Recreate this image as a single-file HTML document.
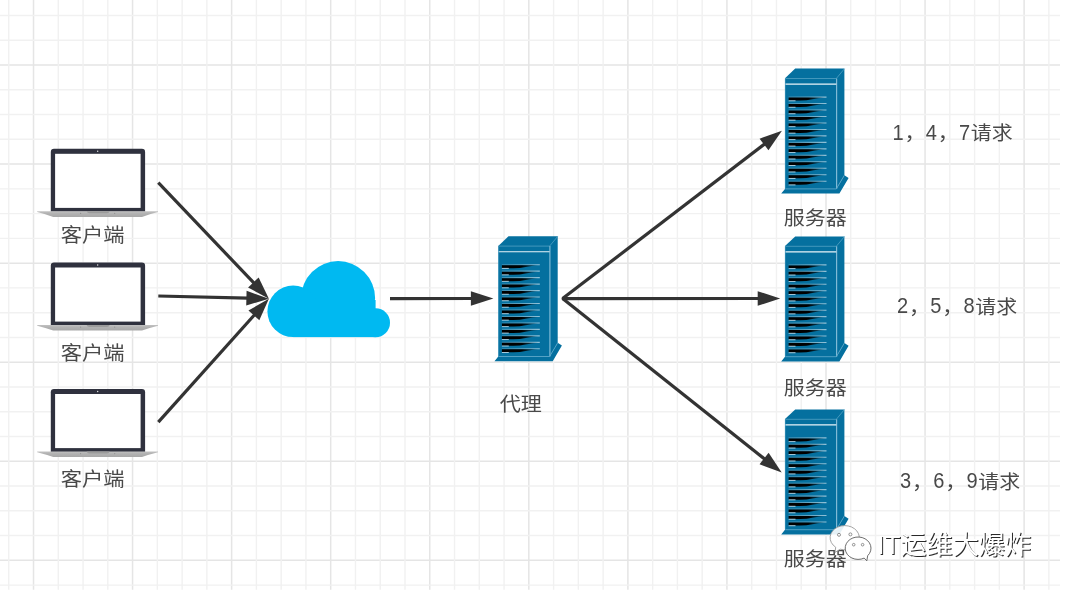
<!DOCTYPE html>
<html lang="zh-CN">
<head>
<meta charset="utf-8">
<title>负载均衡示意图</title>
<style>
html,body{margin:0;padding:0;background:#fff;}
body{width:1066px;height:592px;overflow:hidden;font-family:"Liberation Sans","Noto Sans CJK SC",sans-serif;}
svg{display:block;}
#stage{position:absolute;left:0;top:0;width:1066px;height:592px;will-change:transform;}
</style>
</head>
<body>
<div id="stage">
<svg width="1066" height="592" viewBox="0 0 1066 592" font-family="&quot;Liberation Sans&quot;, &quot;Noto Sans CJK SC&quot;, sans-serif">
<path d="M33.52 0V589.7M132.57 0V589.7M231.63 0V589.7M330.69 0V589.7M429.75 0V589.7M528.82 0V589.7M627.88 0V589.7M726.94 0V589.7M826.00 0V589.7M925.06 0V589.7M1024.12 0V589.7M0 65.03H1060.0M0 164.09H1060.0M0 263.15H1060.0M0 362.21H1060.0M0 461.27H1060.0M0 560.33H1060.0" stroke="#e5e5e5" stroke-width="1.5" fill="none"/>
<path d="M8.75 0V589.7M58.28 0V589.7M83.05 0V589.7M107.81 0V589.7M157.34 0V589.7M182.11 0V589.7M206.87 0V589.7M256.40 0V589.7M281.17 0V589.7M305.93 0V589.7M355.46 0V589.7M380.23 0V589.7M404.99 0V589.7M454.52 0V589.7M479.29 0V589.7M504.05 0V589.7M553.58 0V589.7M578.35 0V589.7M603.11 0V589.7M652.64 0V589.7M677.40 0V589.7M702.17 0V589.7M751.70 0V589.7M776.47 0V589.7M801.23 0V589.7M850.76 0V589.7M875.52 0V589.7M900.29 0V589.7M949.82 0V589.7M974.59 0V589.7M999.35 0V589.7M1048.88 0V589.7M0 15.50H1060.0M0 40.27H1060.0M0 89.80H1060.0M0 114.56H1060.0M0 139.32H1060.0M0 188.86H1060.0M0 213.62H1060.0M0 238.38H1060.0M0 287.92H1060.0M0 312.68H1060.0M0 337.44H1060.0M0 386.98H1060.0M0 411.74H1060.0M0 436.50H1060.0M0 486.04H1060.0M0 510.80H1060.0M0 535.57H1060.0M0 585.10H1060.0" stroke="#f1f1f1" stroke-width="1.4" fill="none"/>
<defs><linearGradient id="lapbase" x1="0" y1="0" x2="0" y2="1"><stop offset="0" stop-color="#c2c2c2"/><stop offset="0.4" stop-color="#b2b2b2"/><stop offset="1" stop-color="#a8a8a8"/></linearGradient></defs>
<g transform="translate(0,148.80)"><path d="M50.8 62.9 V3.2 Q50.8 0 54 0 H141.9 Q145.1 0 145.1 3.2 V62.9Z" fill="#2f313e"/><rect x="55.1" y="5" width="85.5" height="54.1" fill="#fff"/><circle cx="97.7" cy="2.5" r="0.7" fill="#e8e8e8"/><path d="M37.2 62.4 H158 V63.2 Q149 65.4 142 68.1 H53.2 Q46 65.4 37.2 63.2Z" fill="url(#lapbase)"/><path d="M86.6 62.5 H109.7 Q109 64.5 107 64.5 H89.3 Q87.3 64.5 86.6 62.5Z" fill="#9c9c9c"/><circle cx="80.6" cy="64.6" r="0.6" fill="#909090"/><circle cx="114.7" cy="64.6" r="0.6" fill="#909090"/></g>
<g transform="translate(0,262.50)"><path d="M50.8 62.9 V3.2 Q50.8 0 54 0 H141.9 Q145.1 0 145.1 3.2 V62.9Z" fill="#2f313e"/><rect x="55.1" y="5" width="85.5" height="54.1" fill="#fff"/><circle cx="97.7" cy="2.5" r="0.7" fill="#e8e8e8"/><path d="M37.2 62.4 H158 V63.2 Q149 65.4 142 68.1 H53.2 Q46 65.4 37.2 63.2Z" fill="url(#lapbase)"/><path d="M86.6 62.5 H109.7 Q109 64.5 107 64.5 H89.3 Q87.3 64.5 86.6 62.5Z" fill="#9c9c9c"/><circle cx="80.6" cy="64.6" r="0.6" fill="#909090"/><circle cx="114.7" cy="64.6" r="0.6" fill="#909090"/></g>
<g transform="translate(0,389.00)"><path d="M50.8 62.9 V3.2 Q50.8 0 54 0 H141.9 Q145.1 0 145.1 3.2 V62.9Z" fill="#2f313e"/><rect x="55.1" y="5" width="85.5" height="54.1" fill="#fff"/><circle cx="97.7" cy="2.5" r="0.7" fill="#e8e8e8"/><path d="M37.2 62.4 H158 V63.2 Q149 65.4 142 68.1 H53.2 Q46 65.4 37.2 63.2Z" fill="url(#lapbase)"/><path d="M86.6 62.5 H109.7 Q109 64.5 107 64.5 H89.3 Q87.3 64.5 86.6 62.5Z" fill="#9c9c9c"/><circle cx="80.6" cy="64.6" r="0.6" fill="#909090"/><circle cx="114.7" cy="64.6" r="0.6" fill="#909090"/></g>
<g fill="#00b9f1"><circle cx="338.1" cy="298.1" r="37"/><circle cx="293.15" cy="311.35" r="25.75"/><circle cx="375.6" cy="322.75" r="14.4"/><rect x="293.15" y="300" width="82.45" height="37.1"/></g>
<defs><linearGradient id="slotb" gradientUnits="userSpaceOnUse" x1="3.6" y1="0" x2="40" y2="0"><stop offset="0" stop-color="#000"/><stop offset="0.55" stop-color="#000"/><stop offset="1" stop-color="#000" stop-opacity="0.15"/></linearGradient></defs>
<defs><linearGradient id="slotw" gradientUnits="userSpaceOnUse" x1="3.6" y1="0" x2="41.5" y2="0"><stop offset="0" stop-color="#8fb8cc" stop-opacity="0.4"/><stop offset="1" stop-color="#cfe5f0" stop-opacity="0.7"/></linearGradient></defs>
<g transform="translate(498.30,236.20)"><path d="M0 120.3 L-3.8 125 H54.4 L63.6 109.3 L59.4 106.6 L51.3 120.3Z" fill="#05709f"/><path d="M0 9.7 L10.2 0 H59.4 V107 L51.3 120.5 H0Z" fill="#05709f"/><path d="M0 9.9 H51.3 L59.4 0.2" stroke="#4a9cc0" stroke-width="0.9" fill="none"/><path d="M51.6 9.9 V120.3" stroke="#7fbad6" stroke-width="1.2" fill="none"/><path d="M0 15.5 H51.3" stroke="#e8f3f8" stroke-width="1.1" fill="none"/><path d="M0.3 120.3 H51.3 L59.4 106.6" stroke="#5aa6c8" stroke-width="0.9" fill="none"/><path d="M0.35 9.9 V120.3" stroke="#3d93ba" stroke-width="0.7" fill="none"/><path d="M3.6 28.50 H41.5" stroke="url(#slotw)" stroke-width="1.1" fill="none"/><path d="M3.6 29.00 H40 C31 29.80 24 32.00 15 32.00 H3.6Z" fill="url(#slotb)"/><path d="M3.6 32.20 H10.5" stroke="#b9d7e6" stroke-width="0.9" fill="none"/><path d="M3.6 34.97 H41.5" stroke="url(#slotw)" stroke-width="1.1" fill="none"/><path d="M3.6 35.47 H40 C31 36.27 24 38.47 15 38.47 H3.6Z" fill="url(#slotb)"/><path d="M3.6 38.67 H10.5" stroke="#b9d7e6" stroke-width="0.9" fill="none"/><path d="M3.6 41.44 H41.5" stroke="url(#slotw)" stroke-width="1.1" fill="none"/><path d="M3.6 41.94 H40 C31 42.74 24 44.94 15 44.94 H3.6Z" fill="url(#slotb)"/><path d="M3.6 45.14 H10.5" stroke="#b9d7e6" stroke-width="0.9" fill="none"/><path d="M3.6 47.91 H41.5" stroke="url(#slotw)" stroke-width="1.1" fill="none"/><path d="M3.6 48.41 H40 C31 49.21 24 51.41 15 51.41 H3.6Z" fill="url(#slotb)"/><path d="M3.6 51.61 H10.5" stroke="#b9d7e6" stroke-width="0.9" fill="none"/><path d="M3.6 54.38 H41.5" stroke="url(#slotw)" stroke-width="1.1" fill="none"/><path d="M3.6 54.88 H40 C31 55.68 24 57.88 15 57.88 H3.6Z" fill="url(#slotb)"/><path d="M3.6 58.08 H10.5" stroke="#b9d7e6" stroke-width="0.9" fill="none"/><path d="M3.6 60.85 H41.5" stroke="url(#slotw)" stroke-width="1.1" fill="none"/><path d="M3.6 61.35 H40 C31 62.15 24 64.35 15 64.35 H3.6Z" fill="url(#slotb)"/><path d="M3.6 64.55 H10.5" stroke="#b9d7e6" stroke-width="0.9" fill="none"/><path d="M3.6 67.32 H41.5" stroke="url(#slotw)" stroke-width="1.1" fill="none"/><path d="M3.6 67.82 H40 C31 68.62 24 70.82 15 70.82 H3.6Z" fill="url(#slotb)"/><path d="M3.6 71.02 H10.5" stroke="#b9d7e6" stroke-width="0.9" fill="none"/><path d="M3.6 73.79 H41.5" stroke="url(#slotw)" stroke-width="1.1" fill="none"/><path d="M3.6 74.29 H40 C31 75.09 24 77.29 15 77.29 H3.6Z" fill="url(#slotb)"/><path d="M3.6 77.49 H10.5" stroke="#b9d7e6" stroke-width="0.9" fill="none"/><path d="M3.6 80.26 H41.5" stroke="url(#slotw)" stroke-width="1.1" fill="none"/><path d="M3.6 80.76 H40 C31 81.56 24 83.76 15 83.76 H3.6Z" fill="url(#slotb)"/><path d="M3.6 83.96 H10.5" stroke="#b9d7e6" stroke-width="0.9" fill="none"/><path d="M3.6 86.73 H41.5" stroke="url(#slotw)" stroke-width="1.1" fill="none"/><path d="M3.6 87.23 H40 C31 88.03 24 90.23 15 90.23 H3.6Z" fill="url(#slotb)"/><path d="M3.6 90.43 H10.5" stroke="#b9d7e6" stroke-width="0.9" fill="none"/><path d="M3.6 93.20 H41.5" stroke="url(#slotw)" stroke-width="1.1" fill="none"/><path d="M3.6 93.70 H40 C31 94.50 24 96.70 15 96.70 H3.6Z" fill="url(#slotb)"/><path d="M3.6 96.90 H10.5" stroke="#b9d7e6" stroke-width="0.9" fill="none"/><path d="M3.6 99.67 H41.5" stroke="url(#slotw)" stroke-width="1.1" fill="none"/><path d="M3.6 100.17 H40 C31 100.97 24 103.17 15 103.17 H3.6Z" fill="url(#slotb)"/><path d="M3.6 103.37 H10.5" stroke="#b9d7e6" stroke-width="0.9" fill="none"/><path d="M3.6 106.14 H41.5" stroke="url(#slotw)" stroke-width="1.1" fill="none"/><path d="M3.6 106.64 H40 C31 107.44 24 109.64 15 109.64 H3.6Z" fill="url(#slotb)"/><path d="M3.6 109.84 H10.5" stroke="#b9d7e6" stroke-width="0.9" fill="none"/><path d="M3.6 112.61 H41.5" stroke="url(#slotw)" stroke-width="1.1" fill="none"/><path d="M3.6 113.11 H40 C31 113.91 24 116.11 15 116.11 H3.6Z" fill="url(#slotb)"/><path d="M3.6 116.31 H10.5" stroke="#b9d7e6" stroke-width="0.9" fill="none"/></g>
<g transform="translate(785.00,68.60)"><path d="M0 120.3 L-3.8 125 H54.4 L63.6 109.3 L59.4 106.6 L51.3 120.3Z" fill="#05709f"/><path d="M0 9.7 L10.2 0 H59.4 V107 L51.3 120.5 H0Z" fill="#05709f"/><path d="M0 9.9 H51.3 L59.4 0.2" stroke="#4a9cc0" stroke-width="0.9" fill="none"/><path d="M51.6 9.9 V120.3" stroke="#7fbad6" stroke-width="1.2" fill="none"/><path d="M0 15.5 H51.3" stroke="#e8f3f8" stroke-width="1.1" fill="none"/><path d="M0.3 120.3 H51.3 L59.4 106.6" stroke="#5aa6c8" stroke-width="0.9" fill="none"/><path d="M0.35 9.9 V120.3" stroke="#3d93ba" stroke-width="0.7" fill="none"/><path d="M3.6 28.50 H41.5" stroke="url(#slotw)" stroke-width="1.1" fill="none"/><path d="M3.6 29.00 H40 C31 29.80 24 32.00 15 32.00 H3.6Z" fill="url(#slotb)"/><path d="M3.6 32.20 H10.5" stroke="#b9d7e6" stroke-width="0.9" fill="none"/><path d="M3.6 34.97 H41.5" stroke="url(#slotw)" stroke-width="1.1" fill="none"/><path d="M3.6 35.47 H40 C31 36.27 24 38.47 15 38.47 H3.6Z" fill="url(#slotb)"/><path d="M3.6 38.67 H10.5" stroke="#b9d7e6" stroke-width="0.9" fill="none"/><path d="M3.6 41.44 H41.5" stroke="url(#slotw)" stroke-width="1.1" fill="none"/><path d="M3.6 41.94 H40 C31 42.74 24 44.94 15 44.94 H3.6Z" fill="url(#slotb)"/><path d="M3.6 45.14 H10.5" stroke="#b9d7e6" stroke-width="0.9" fill="none"/><path d="M3.6 47.91 H41.5" stroke="url(#slotw)" stroke-width="1.1" fill="none"/><path d="M3.6 48.41 H40 C31 49.21 24 51.41 15 51.41 H3.6Z" fill="url(#slotb)"/><path d="M3.6 51.61 H10.5" stroke="#b9d7e6" stroke-width="0.9" fill="none"/><path d="M3.6 54.38 H41.5" stroke="url(#slotw)" stroke-width="1.1" fill="none"/><path d="M3.6 54.88 H40 C31 55.68 24 57.88 15 57.88 H3.6Z" fill="url(#slotb)"/><path d="M3.6 58.08 H10.5" stroke="#b9d7e6" stroke-width="0.9" fill="none"/><path d="M3.6 60.85 H41.5" stroke="url(#slotw)" stroke-width="1.1" fill="none"/><path d="M3.6 61.35 H40 C31 62.15 24 64.35 15 64.35 H3.6Z" fill="url(#slotb)"/><path d="M3.6 64.55 H10.5" stroke="#b9d7e6" stroke-width="0.9" fill="none"/><path d="M3.6 67.32 H41.5" stroke="url(#slotw)" stroke-width="1.1" fill="none"/><path d="M3.6 67.82 H40 C31 68.62 24 70.82 15 70.82 H3.6Z" fill="url(#slotb)"/><path d="M3.6 71.02 H10.5" stroke="#b9d7e6" stroke-width="0.9" fill="none"/><path d="M3.6 73.79 H41.5" stroke="url(#slotw)" stroke-width="1.1" fill="none"/><path d="M3.6 74.29 H40 C31 75.09 24 77.29 15 77.29 H3.6Z" fill="url(#slotb)"/><path d="M3.6 77.49 H10.5" stroke="#b9d7e6" stroke-width="0.9" fill="none"/><path d="M3.6 80.26 H41.5" stroke="url(#slotw)" stroke-width="1.1" fill="none"/><path d="M3.6 80.76 H40 C31 81.56 24 83.76 15 83.76 H3.6Z" fill="url(#slotb)"/><path d="M3.6 83.96 H10.5" stroke="#b9d7e6" stroke-width="0.9" fill="none"/><path d="M3.6 86.73 H41.5" stroke="url(#slotw)" stroke-width="1.1" fill="none"/><path d="M3.6 87.23 H40 C31 88.03 24 90.23 15 90.23 H3.6Z" fill="url(#slotb)"/><path d="M3.6 90.43 H10.5" stroke="#b9d7e6" stroke-width="0.9" fill="none"/><path d="M3.6 93.20 H41.5" stroke="url(#slotw)" stroke-width="1.1" fill="none"/><path d="M3.6 93.70 H40 C31 94.50 24 96.70 15 96.70 H3.6Z" fill="url(#slotb)"/><path d="M3.6 96.90 H10.5" stroke="#b9d7e6" stroke-width="0.9" fill="none"/><path d="M3.6 99.67 H41.5" stroke="url(#slotw)" stroke-width="1.1" fill="none"/><path d="M3.6 100.17 H40 C31 100.97 24 103.17 15 103.17 H3.6Z" fill="url(#slotb)"/><path d="M3.6 103.37 H10.5" stroke="#b9d7e6" stroke-width="0.9" fill="none"/><path d="M3.6 106.14 H41.5" stroke="url(#slotw)" stroke-width="1.1" fill="none"/><path d="M3.6 106.64 H40 C31 107.44 24 109.64 15 109.64 H3.6Z" fill="url(#slotb)"/><path d="M3.6 109.84 H10.5" stroke="#b9d7e6" stroke-width="0.9" fill="none"/><path d="M3.6 112.61 H41.5" stroke="url(#slotw)" stroke-width="1.1" fill="none"/><path d="M3.6 113.11 H40 C31 113.91 24 116.11 15 116.11 H3.6Z" fill="url(#slotb)"/><path d="M3.6 116.31 H10.5" stroke="#b9d7e6" stroke-width="0.9" fill="none"/></g>
<g transform="translate(785.00,236.40)"><path d="M0 120.3 L-3.8 125 H54.4 L63.6 109.3 L59.4 106.6 L51.3 120.3Z" fill="#05709f"/><path d="M0 9.7 L10.2 0 H59.4 V107 L51.3 120.5 H0Z" fill="#05709f"/><path d="M0 9.9 H51.3 L59.4 0.2" stroke="#4a9cc0" stroke-width="0.9" fill="none"/><path d="M51.6 9.9 V120.3" stroke="#7fbad6" stroke-width="1.2" fill="none"/><path d="M0 15.5 H51.3" stroke="#e8f3f8" stroke-width="1.1" fill="none"/><path d="M0.3 120.3 H51.3 L59.4 106.6" stroke="#5aa6c8" stroke-width="0.9" fill="none"/><path d="M0.35 9.9 V120.3" stroke="#3d93ba" stroke-width="0.7" fill="none"/><path d="M3.6 28.50 H41.5" stroke="url(#slotw)" stroke-width="1.1" fill="none"/><path d="M3.6 29.00 H40 C31 29.80 24 32.00 15 32.00 H3.6Z" fill="url(#slotb)"/><path d="M3.6 32.20 H10.5" stroke="#b9d7e6" stroke-width="0.9" fill="none"/><path d="M3.6 34.97 H41.5" stroke="url(#slotw)" stroke-width="1.1" fill="none"/><path d="M3.6 35.47 H40 C31 36.27 24 38.47 15 38.47 H3.6Z" fill="url(#slotb)"/><path d="M3.6 38.67 H10.5" stroke="#b9d7e6" stroke-width="0.9" fill="none"/><path d="M3.6 41.44 H41.5" stroke="url(#slotw)" stroke-width="1.1" fill="none"/><path d="M3.6 41.94 H40 C31 42.74 24 44.94 15 44.94 H3.6Z" fill="url(#slotb)"/><path d="M3.6 45.14 H10.5" stroke="#b9d7e6" stroke-width="0.9" fill="none"/><path d="M3.6 47.91 H41.5" stroke="url(#slotw)" stroke-width="1.1" fill="none"/><path d="M3.6 48.41 H40 C31 49.21 24 51.41 15 51.41 H3.6Z" fill="url(#slotb)"/><path d="M3.6 51.61 H10.5" stroke="#b9d7e6" stroke-width="0.9" fill="none"/><path d="M3.6 54.38 H41.5" stroke="url(#slotw)" stroke-width="1.1" fill="none"/><path d="M3.6 54.88 H40 C31 55.68 24 57.88 15 57.88 H3.6Z" fill="url(#slotb)"/><path d="M3.6 58.08 H10.5" stroke="#b9d7e6" stroke-width="0.9" fill="none"/><path d="M3.6 60.85 H41.5" stroke="url(#slotw)" stroke-width="1.1" fill="none"/><path d="M3.6 61.35 H40 C31 62.15 24 64.35 15 64.35 H3.6Z" fill="url(#slotb)"/><path d="M3.6 64.55 H10.5" stroke="#b9d7e6" stroke-width="0.9" fill="none"/><path d="M3.6 67.32 H41.5" stroke="url(#slotw)" stroke-width="1.1" fill="none"/><path d="M3.6 67.82 H40 C31 68.62 24 70.82 15 70.82 H3.6Z" fill="url(#slotb)"/><path d="M3.6 71.02 H10.5" stroke="#b9d7e6" stroke-width="0.9" fill="none"/><path d="M3.6 73.79 H41.5" stroke="url(#slotw)" stroke-width="1.1" fill="none"/><path d="M3.6 74.29 H40 C31 75.09 24 77.29 15 77.29 H3.6Z" fill="url(#slotb)"/><path d="M3.6 77.49 H10.5" stroke="#b9d7e6" stroke-width="0.9" fill="none"/><path d="M3.6 80.26 H41.5" stroke="url(#slotw)" stroke-width="1.1" fill="none"/><path d="M3.6 80.76 H40 C31 81.56 24 83.76 15 83.76 H3.6Z" fill="url(#slotb)"/><path d="M3.6 83.96 H10.5" stroke="#b9d7e6" stroke-width="0.9" fill="none"/><path d="M3.6 86.73 H41.5" stroke="url(#slotw)" stroke-width="1.1" fill="none"/><path d="M3.6 87.23 H40 C31 88.03 24 90.23 15 90.23 H3.6Z" fill="url(#slotb)"/><path d="M3.6 90.43 H10.5" stroke="#b9d7e6" stroke-width="0.9" fill="none"/><path d="M3.6 93.20 H41.5" stroke="url(#slotw)" stroke-width="1.1" fill="none"/><path d="M3.6 93.70 H40 C31 94.50 24 96.70 15 96.70 H3.6Z" fill="url(#slotb)"/><path d="M3.6 96.90 H10.5" stroke="#b9d7e6" stroke-width="0.9" fill="none"/><path d="M3.6 99.67 H41.5" stroke="url(#slotw)" stroke-width="1.1" fill="none"/><path d="M3.6 100.17 H40 C31 100.97 24 103.17 15 103.17 H3.6Z" fill="url(#slotb)"/><path d="M3.6 103.37 H10.5" stroke="#b9d7e6" stroke-width="0.9" fill="none"/><path d="M3.6 106.14 H41.5" stroke="url(#slotw)" stroke-width="1.1" fill="none"/><path d="M3.6 106.64 H40 C31 107.44 24 109.64 15 109.64 H3.6Z" fill="url(#slotb)"/><path d="M3.6 109.84 H10.5" stroke="#b9d7e6" stroke-width="0.9" fill="none"/><path d="M3.6 112.61 H41.5" stroke="url(#slotw)" stroke-width="1.1" fill="none"/><path d="M3.6 113.11 H40 C31 113.91 24 116.11 15 116.11 H3.6Z" fill="url(#slotb)"/><path d="M3.6 116.31 H10.5" stroke="#b9d7e6" stroke-width="0.9" fill="none"/></g>
<g transform="translate(785.00,409.40)"><path d="M0 120.3 L-3.8 125 H54.4 L63.6 109.3 L59.4 106.6 L51.3 120.3Z" fill="#05709f"/><path d="M0 9.7 L10.2 0 H59.4 V107 L51.3 120.5 H0Z" fill="#05709f"/><path d="M0 9.9 H51.3 L59.4 0.2" stroke="#4a9cc0" stroke-width="0.9" fill="none"/><path d="M51.6 9.9 V120.3" stroke="#7fbad6" stroke-width="1.2" fill="none"/><path d="M0 15.5 H51.3" stroke="#e8f3f8" stroke-width="1.1" fill="none"/><path d="M0.3 120.3 H51.3 L59.4 106.6" stroke="#5aa6c8" stroke-width="0.9" fill="none"/><path d="M0.35 9.9 V120.3" stroke="#3d93ba" stroke-width="0.7" fill="none"/><path d="M3.6 28.50 H41.5" stroke="url(#slotw)" stroke-width="1.1" fill="none"/><path d="M3.6 29.00 H40 C31 29.80 24 32.00 15 32.00 H3.6Z" fill="url(#slotb)"/><path d="M3.6 32.20 H10.5" stroke="#b9d7e6" stroke-width="0.9" fill="none"/><path d="M3.6 34.97 H41.5" stroke="url(#slotw)" stroke-width="1.1" fill="none"/><path d="M3.6 35.47 H40 C31 36.27 24 38.47 15 38.47 H3.6Z" fill="url(#slotb)"/><path d="M3.6 38.67 H10.5" stroke="#b9d7e6" stroke-width="0.9" fill="none"/><path d="M3.6 41.44 H41.5" stroke="url(#slotw)" stroke-width="1.1" fill="none"/><path d="M3.6 41.94 H40 C31 42.74 24 44.94 15 44.94 H3.6Z" fill="url(#slotb)"/><path d="M3.6 45.14 H10.5" stroke="#b9d7e6" stroke-width="0.9" fill="none"/><path d="M3.6 47.91 H41.5" stroke="url(#slotw)" stroke-width="1.1" fill="none"/><path d="M3.6 48.41 H40 C31 49.21 24 51.41 15 51.41 H3.6Z" fill="url(#slotb)"/><path d="M3.6 51.61 H10.5" stroke="#b9d7e6" stroke-width="0.9" fill="none"/><path d="M3.6 54.38 H41.5" stroke="url(#slotw)" stroke-width="1.1" fill="none"/><path d="M3.6 54.88 H40 C31 55.68 24 57.88 15 57.88 H3.6Z" fill="url(#slotb)"/><path d="M3.6 58.08 H10.5" stroke="#b9d7e6" stroke-width="0.9" fill="none"/><path d="M3.6 60.85 H41.5" stroke="url(#slotw)" stroke-width="1.1" fill="none"/><path d="M3.6 61.35 H40 C31 62.15 24 64.35 15 64.35 H3.6Z" fill="url(#slotb)"/><path d="M3.6 64.55 H10.5" stroke="#b9d7e6" stroke-width="0.9" fill="none"/><path d="M3.6 67.32 H41.5" stroke="url(#slotw)" stroke-width="1.1" fill="none"/><path d="M3.6 67.82 H40 C31 68.62 24 70.82 15 70.82 H3.6Z" fill="url(#slotb)"/><path d="M3.6 71.02 H10.5" stroke="#b9d7e6" stroke-width="0.9" fill="none"/><path d="M3.6 73.79 H41.5" stroke="url(#slotw)" stroke-width="1.1" fill="none"/><path d="M3.6 74.29 H40 C31 75.09 24 77.29 15 77.29 H3.6Z" fill="url(#slotb)"/><path d="M3.6 77.49 H10.5" stroke="#b9d7e6" stroke-width="0.9" fill="none"/><path d="M3.6 80.26 H41.5" stroke="url(#slotw)" stroke-width="1.1" fill="none"/><path d="M3.6 80.76 H40 C31 81.56 24 83.76 15 83.76 H3.6Z" fill="url(#slotb)"/><path d="M3.6 83.96 H10.5" stroke="#b9d7e6" stroke-width="0.9" fill="none"/><path d="M3.6 86.73 H41.5" stroke="url(#slotw)" stroke-width="1.1" fill="none"/><path d="M3.6 87.23 H40 C31 88.03 24 90.23 15 90.23 H3.6Z" fill="url(#slotb)"/><path d="M3.6 90.43 H10.5" stroke="#b9d7e6" stroke-width="0.9" fill="none"/><path d="M3.6 93.20 H41.5" stroke="url(#slotw)" stroke-width="1.1" fill="none"/><path d="M3.6 93.70 H40 C31 94.50 24 96.70 15 96.70 H3.6Z" fill="url(#slotb)"/><path d="M3.6 96.90 H10.5" stroke="#b9d7e6" stroke-width="0.9" fill="none"/><path d="M3.6 99.67 H41.5" stroke="url(#slotw)" stroke-width="1.1" fill="none"/><path d="M3.6 100.17 H40 C31 100.97 24 103.17 15 103.17 H3.6Z" fill="url(#slotb)"/><path d="M3.6 103.37 H10.5" stroke="#b9d7e6" stroke-width="0.9" fill="none"/><path d="M3.6 106.14 H41.5" stroke="url(#slotw)" stroke-width="1.1" fill="none"/><path d="M3.6 106.64 H40 C31 107.44 24 109.64 15 109.64 H3.6Z" fill="url(#slotb)"/><path d="M3.6 109.84 H10.5" stroke="#b9d7e6" stroke-width="0.9" fill="none"/><path d="M3.6 112.61 H41.5" stroke="url(#slotw)" stroke-width="1.1" fill="none"/><path d="M3.6 113.11 H40 C31 113.91 24 116.11 15 116.11 H3.6Z" fill="url(#slotb)"/><path d="M3.6 116.31 H10.5" stroke="#b9d7e6" stroke-width="0.9" fill="none"/></g>
<path d="M158.30 182.70L254.06 283.14" stroke="#333" stroke-width="3.2" fill="none"/><path d="M268.90 298.70L248.09 287.45L258.66 277.38Z" fill="#333"/>
<path d="M158.30 296.00L247.41 298.18" stroke="#333" stroke-width="3.2" fill="none"/><path d="M268.90 298.70L246.23 305.45L246.58 290.85Z" fill="#333"/>
<path d="M158.30 422.10L254.55 314.71" stroke="#333" stroke-width="3.2" fill="none"/><path d="M268.90 298.70L259.32 320.33L248.45 310.58Z" fill="#333"/>
<path d="M390.00 298.60L471.90 298.52" stroke="#333" stroke-width="3.2" fill="none"/><path d="M493.40 298.50L470.91 305.82L470.89 291.22Z" fill="#333"/>
<path d="M562.60 298.60L764.83 143.87" stroke="#333" stroke-width="3.2" fill="none"/><path d="M781.90 130.80L768.47 150.27L759.59 138.68Z" fill="#333"/>
<path d="M562.60 298.60L758.70 298.51" stroke="#333" stroke-width="3.2" fill="none"/><path d="M780.20 298.50L757.70 305.81L757.70 291.21Z" fill="#333"/>
<path d="M562.60 298.60L764.86 459.13" stroke="#333" stroke-width="3.2" fill="none"/><path d="M781.70 472.50L759.54 464.23L768.61 452.79Z" fill="#333"/>
<circle cx="563.2" cy="298.6" r="1.6" fill="#333"/>
<text transform="translate(60.65,242.35) scale(1,0.909)" font-size="21.30" fill="#494949">客户端</text>
<text transform="translate(60.65,360.06) scale(1,0.904)" font-size="21.30" fill="#494949">客户端</text>
<text transform="translate(60.65,486.39) scale(1,0.889)" font-size="21.30" fill="#494949">客户端</text>
<text transform="translate(499.77,410.94) scale(1,0.923)" font-size="21.08" fill="#494949">代理</text>
<text transform="translate(783.66,224.63) scale(1,0.931)" font-size="21.02" fill="#494949">服务器</text>
<text transform="translate(783.66,394.85) scale(1,0.921)" font-size="21.02" fill="#494949">服务器</text>
<text transform="translate(783.66,566.47) scale(1,0.910)" font-size="21.02" fill="#494949">服务器</text>
<text transform="translate(892.30,139.80) scale(1,0.92)" font-size="21.0" fill="#494949"><tspan x="0.30" y="0" font-size="24.6" textLength="11.15" lengthAdjust="spacingAndGlyphs">1</tspan><tspan x="12.25" y="0.7">，</tspan><tspan x="33.55" y="0" font-size="24.6" textLength="11.15" lengthAdjust="spacingAndGlyphs">4</tspan><tspan x="45.50" y="0.7">，</tspan><tspan x="66.80" y="0" font-size="24.6" textLength="11.15" lengthAdjust="spacingAndGlyphs">7</tspan><tspan x="78.35" y="0.7">请求</tspan></text>
<text transform="translate(896.80,313.30) scale(1,0.92)" font-size="21.0" fill="#494949"><tspan x="0.30" y="0" font-size="24.6" textLength="11.15" lengthAdjust="spacingAndGlyphs">2</tspan><tspan x="12.25" y="0.7">，</tspan><tspan x="33.55" y="0" font-size="24.6" textLength="11.15" lengthAdjust="spacingAndGlyphs">5</tspan><tspan x="45.50" y="0.7">，</tspan><tspan x="66.80" y="0" font-size="24.6" textLength="11.15" lengthAdjust="spacingAndGlyphs">8</tspan><tspan x="78.35" y="0.7">请求</tspan></text>
<text transform="translate(899.80,488.00) scale(1,0.92)" font-size="21.0" fill="#494949"><tspan x="0.30" y="0" font-size="24.6" textLength="11.15" lengthAdjust="spacingAndGlyphs">3</tspan><tspan x="12.25" y="0.7">，</tspan><tspan x="33.55" y="0" font-size="24.6" textLength="11.15" lengthAdjust="spacingAndGlyphs">6</tspan><tspan x="45.50" y="0.7">，</tspan><tspan x="66.80" y="0" font-size="24.6" textLength="11.15" lengthAdjust="spacingAndGlyphs">9</tspan><tspan x="78.35" y="0.7">请求</tspan></text>
<path d="M835.71 547.23A14.6 12.1 0 1 1 840.19 549.21L835.00 552.40Z" fill="#fff" fill-opacity="0.9" stroke="#8e8e8e" stroke-width="0.8"/>
<path d="M864.16 558.09A12.9 11.2 0 1 1 867.69 555.69L866.80 560.80Z" fill="#fff" stroke="#5c5c5c" stroke-width="0.9"/>
<g fill="#fff" stroke="#777" stroke-width="0.8"><circle cx="839.0" cy="534.8" r="1.5"/><circle cx="850.4" cy="534.4" r="1.5"/><circle cx="853.7" cy="544.7" r="1.3"/><circle cx="862.6" cy="544.7" r="1.3"/></g>
<text x="877.2" y="553.6" font-size="26.15" fill="#fff" text-anchor="start" style="text-shadow:1px 1px 0.3px rgba(30,30,30,.95)">IT运维大爆炸</text>
</svg>
</div>
</body>
</html>
